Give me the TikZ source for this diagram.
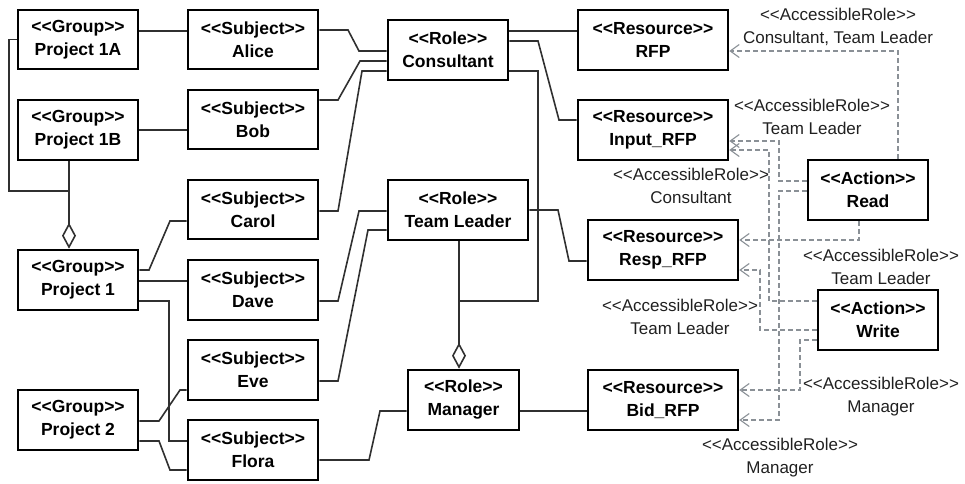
\documentclass[tikz,border=0pt]{standalone}
\usepackage{fontspec}
\setmainfont{Liberation Sans}
\usetikzlibrary{arrows.meta}

\definecolor{linkgray}{HTML}{303030}
\definecolor{accgray}{HTML}{8A9096}
\definecolor{labelink}{HTML}{202020}

% stereotype brackets, kept apart so they are not turned into guillemets
\newcommand\stereo[1]{<\kern0pt<#1>\kern0pt>}

\begin{document}
\begin{tikzpicture}[x=1pt,y=-1pt,
  box/.style={draw=black, line width=2.6pt, fill=white, inner sep=0pt,
    align=center, font=\fontsize{17.5}{23}\selectfont\bfseries},
  link/.style={draw=linkgray, line width=1.6pt},
  agg/.style={link, -{Diamond[open,length=26pt,width=14pt,line width=1.6pt]}},
  access/.style={draw=accgray, line width=1.3pt, dash pattern=on 5pt off 3pt,
    -{Straight Barb[length=9pt,width=13pt,line width=1.1pt]}},
  lab/.style={align=center, inner sep=0pt, text=labelink,
    font=\fontsize{17}{23}\selectfont}]

\useasboundingbox (0,0) rectangle (965,483);

% groups
\node[box, minimum width=120pt, minimum height=59pt] (p1a) at (78,39.5) {\stereo{Group}\\Project 1A};
\node[box, minimum width=120pt, minimum height=60pt] (p1b) at (78,130) {\stereo{Group}\\Project 1B};
\node[box, minimum width=120pt, minimum height=60pt] (p1) at (78,280) {\stereo{Group}\\Project 1};
\node[box, minimum width=120pt, minimum height=60pt] (p2) at (78,420) {\stereo{Group}\\Project 2};

% subjects
\node[box, minimum width=130pt, minimum height=59pt] (alice) at (253,39.5) {\stereo{Subject}\\Alice};
\node[box, minimum width=130pt, minimum height=59pt] (bob) at (253,119.5) {\stereo{Subject}\\Bob};
\node[box, minimum width=130pt, minimum height=59pt] (carol) at (253,209.5) {\stereo{Subject}\\Carol};
\node[box, minimum width=130pt, minimum height=60pt] (dave) at (253,290) {\stereo{Subject}\\Dave};
\node[box, minimum width=130pt, minimum height=60pt] (eve) at (253,370) {\stereo{Subject}\\Eve};
\node[box, minimum width=130pt, minimum height=60pt] (flora) at (253,450) {\stereo{Subject}\\Flora};

% roles
\node[box, minimum width=120pt, minimum height=60pt] (consultant) at (448,50) {\stereo{Role}\\Consultant};
\node[box, minimum width=140pt, minimum height=60pt] (teamleader) at (458,210) {\stereo{Role}\\Team Leader};
\node[box, minimum width=111pt, minimum height=60pt] (manager) at (463.5,400) {\stereo{Role}\\Manager};

% resources
\node[box, minimum width=150pt, minimum height=60pt] (rfp) at (653,40) {\stereo{Resource}\\RFP};
\node[box, minimum width=150pt, minimum height=60pt] (input) at (653,130) {\stereo{Resource}\\Input\_RFP};
\node[box, minimum width=150pt, minimum height=60pt] (resp) at (663,250) {\stereo{Resource}\\Resp\_RFP};
\node[box, minimum width=150pt, minimum height=60pt] (bid) at (663,400) {\stereo{Resource}\\Bid\_RFP};

% actions
\node[box, minimum width=120pt, minimum height=60pt] (read) at (868,190) {\stereo{Action}\\Read};
\node[box, minimum width=120pt, minimum height=60pt] (write) at (878,320) {\stereo{Action}\\Write};

% junctions on the aggregation lines
\coordinate (agg1) at (69,191);
\coordinate (agg2) at (459,301);

% group membership
\draw[link] (p1a.east |- 0,31) -- (alice.west |- 0,31);
\draw[link] (p1b.east |- 0,130) -- (bob.west |- 0,130);
\draw[link] (p1a.west) -- (9,39.5) |- (agg1);
\draw[agg] (p1b.south -| 69,0) -- (p1.north -| 69,0);
\draw[link] (p1.east |- 0,270) -- (149,270) -- (170,221) -- (carol.west |- 0,221);
\draw[link] (p1.east |- 0,281) -- (dave.west |- 0,281);
\draw[link] (p1.east |- 0,301) -| (169,441) -- (flora.west |- 0,441);
\draw[link] (p2.east |- 0,421) -- (159,421) -- (180,390) -- (eve.west |- 0,390);
\draw[link] (p2.east |- 0,441) -- (159,441) -- (170,470) -- (flora.west |- 0,470);

% subject to role assignment
\draw[link] (alice.east |- 0,30) -- (348,30) -- (359,51) -- (consultant.west |- 0,51);
\draw[link] (bob.east |- 0,100) -- (338,100) -- (360,61) -- (consultant.west |- 0,61);
\draw[link] (carol.east |- 0,211) -- (338,211) -- (362,71) -- (consultant.west |- 0,71);
\draw[link] (dave.east |- 0,301) -- (338,301) -- (359,211) -- (teamleader.west |- 0,211);
\draw[link] (eve.east |- 0,381) -- (338,381) -- (368,230) -- (teamleader.west |- 0,230);
\draw[link] (flora.east |- 0,460) -- (369,460) -- (380,411) -- (manager.west |- 0,411);

% role to resource
\draw[link] (consultant.east |- 0,31) -- (rfp.west |- 0,31);
\draw[link] (consultant.east |- 0,41) -- (538,41) -- (559,120) -- (input.west |- 0,120);
\draw[link] (consultant.east |- 0,71) -| (538,301) -- (agg2);
\draw[agg] (teamleader.south -| 459,0) -- (manager.north -| 459,0);
\draw[link] (teamleader.east |- 0,210) -- (558,210) -- (569,261) -- (resp.west |- 0,261);
\draw[link] (manager.east |- 0,411) -- (bid.west |- 0,411);

% accessible-role dependencies
\draw[access] (read.north -| 898,0) -- (898,51) -- (rfp.east |- 0,51);
\draw[access] (read.west |- 0,181) -- (779,181) -- (779,141) -- (input.east |- 0,141);
\draw[access] (read.west |- 0,191) -- (779,191) -- (779,420) -- (bid.east |- 0,420);
\draw[access] (read.south -| 859,0) -- (859,240) -- (resp.east |- 0,240);
\draw[access] (write.west |- 0,301) -- (769,301) -- (769,150) -- (input.east |- 0,150);
\draw[access] (write.west |- 0,330) -- (760,330) -- (760,270) -- (resp.east |- 0,270);
\draw[access] (write.west |- 0,340) -- (800,340) -- (800,390) -- (bid.east |- 0,390);

% dependency labels
\node[lab] (l1) at (838,26.5) {\stereo{AccessibleRole}\\Consultant, Team Leader};
\node[lab] (l2) at (812,117) {\stereo{AccessibleRole}\\Team Leader};
\node[lab] (l3) at (691,186) {\stereo{AccessibleRole}\\Consultant};
\node[lab] (l4) at (881,266.5) {\stereo{AccessibleRole}\\Team Leader};
\node[lab] (l5) at (680,316.5) {\stereo{AccessibleRole}\\Team Leader};
\node[lab] (l6) at (881,397) {\stereo{AccessibleRole}\\Manager};
\node[lab] (l7) at (780,457.5) {\stereo{AccessibleRole}\\Manager};

\end{tikzpicture}
\end{document}
